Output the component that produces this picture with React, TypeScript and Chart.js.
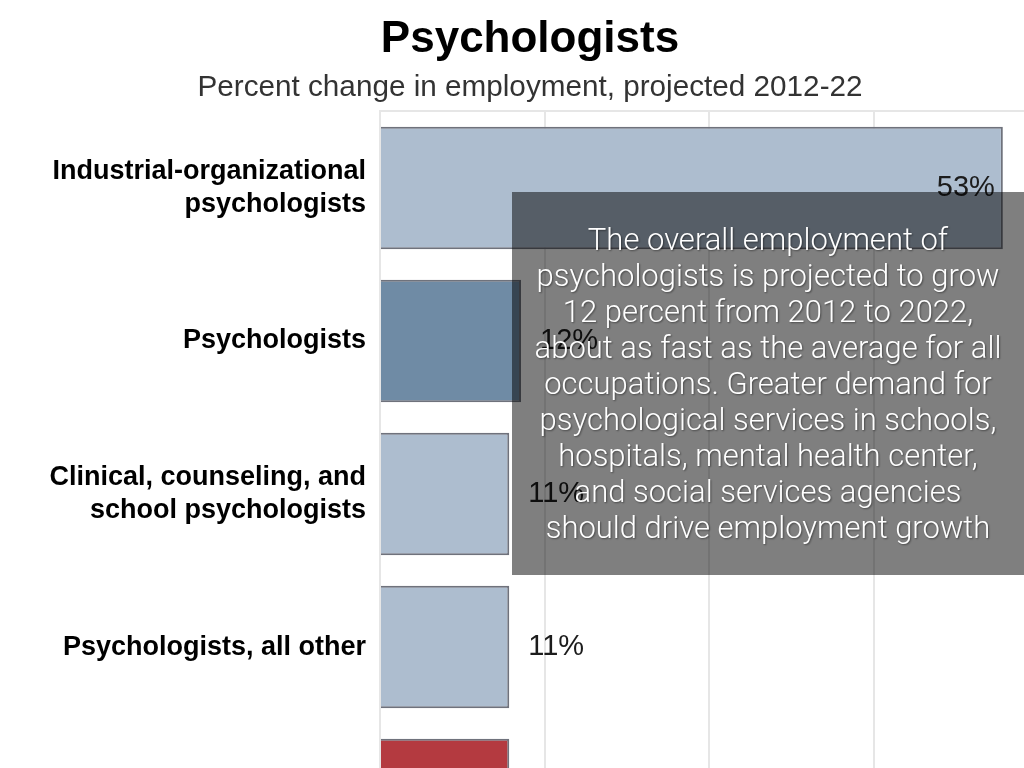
import React, { useEffect, useRef } from "react";
import { Chart, registerables } from "chart.js";

Chart.register(...registerables);

const categories: (string | string[])[] = [
  ["Industrial-organizational", "psychologists"],
  "Psychologists",
  ["Clinical, counseling, and", "school psychologists"],
  "Psychologists, all other",
  "Total, all occupations",
];
const percentChange = [53, 12, 11, 11, 11];
const barColors = ["#adbdcf", "#6f8ba5", "#adbdcf", "#adbdcf", "#b43a40"];
const gridValues = [0, 14, 28, 42];
const titleText = "Psychologists";
const subtitleText = "Percent change in employment, projected 2012-22";
const noteLines = [
  "The overall employment of",
  "psychologists is projected to grow",
  "12 percent from 2012 to 2022,",
  "about as fast as the average for all",
  "occupations. Greater demand for",
  "psychological services in schools,",
  "hospitals, mental health center,",
  "and social services agencies",
  "should drive employment growth",
];

const valueLabels = {
  id: "valueLabels",
  afterDatasetsDraw(chart: any) {
    const ctx = chart.ctx;
    const meta = chart.getDatasetMeta(0);
    ctx.save();
    ctx.font = "400 29px 'Liberation Sans', Arial, sans-serif";
    ctx.fillStyle = "#1c1c1c";
    ctx.textBaseline = "middle";
    meta.data.forEach((bar: any, i: number) => {
      const v = percentChange[i];
      const text = v + "%";
      if (v > 40) {
        ctx.textAlign = "right";
        ctx.fillText(text, bar.x - 8, bar.y);
      } else {
        ctx.textAlign = "left";
        ctx.fillText(text, bar.x + 19, bar.y);
      }
    });
    ctx.restore();
  },
};

export default function App() {
  const ref = useRef<HTMLCanvasElement | null>(null);

  useEffect(() => {
    if (!ref.current) return;
    const chart = new Chart(ref.current, {
      type: "bar",
      data: {
        labels: categories,
        datasets: [
          {
            data: percentChange,
            backgroundColor: barColors,
            borderColor: "#6f727c",
            borderWidth: 2,
            barPercentage: 0.8,
            categoryPercentage: 1,
          },
        ],
      },
      options: {
        indexAxis: "y",
        animation: false,
        responsive: false,
        layout: { padding: { left: 36, top: 0, right: 0, bottom: 0 } },
        plugins: {
          legend: { display: false },
          tooltip: { enabled: false },
          title: {
            display: true,
            text: titleText,
            color: "#000",
            font: { family: "'Liberation Sans', Arial, sans-serif", size: 44, weight: "bold" },
            padding: { top: 13, bottom: 0 },
          },
          subtitle: {
            display: true,
            text: subtitleText,
            color: "#333",
            font: { family: "'Liberation Sans', Arial, sans-serif", size: 29.7, weight: "normal" },
            padding: { top: 4, bottom: 6 },
          },
        },
        scales: {
          x: {
            position: "top",
            min: 0,
            max: 54.8,
            afterBuildTicks: (scale: any) => {
              scale.ticks = gridValues.map((v) => ({ value: v }));
            },
            ticks: { display: false },
            grid: { color: "#e6e6e6", lineWidth: 2, drawTicks: false },
            border: { display: true, color: "#e6e6e6", width: 2 },
          },
          y: {
            afterFit: (scale: any) => {
              scale.width = 344;
            },
            ticks: {
              color: "#000",
              padding: 14,
              font: { family: "'Liberation Sans', Arial, sans-serif", size: 27, weight: "bold", lineHeight: 1.2 },
            },
            grid: { display: false, drawTicks: false },
            border: { display: true, color: "#e6e6e6", width: 2 },
          },
        },
      },
      plugins: [valueLabels],
    } as any);
    return () => chart.destroy();
  }, []);

  return (
    <div
      style={{
        position: "fixed",
        left: 0,
        top: 0,
        width: 1024,
        height: 768,
        overflow: "hidden",
        background: "#fff",
      }}
    >
      <canvas ref={ref} width={1024} height={923} style={{ display: "block" }} />
      <div
        style={{
          position: "absolute",
          left: 512,
          top: 192,
          width: 512,
          height: 383,
          background: "rgba(0,0,0,0.5)",
          color: "#fff",
          fontFamily: "Roboto, 'Open Sans', sans-serif",
          fontWeight: 300,
          fontSize: 31,
          lineHeight: "36px",
          textAlign: "center",
          paddingTop: 30,
          boxSizing: "border-box",
          textShadow: "1px 1px 2px rgba(0,0,0,0.45)",
          whiteSpace: "nowrap",
        }}
      >
        {noteLines.map((line, i) => (
          <div key={i}>{line}</div>
        ))}
      </div>
    </div>
  );
}
